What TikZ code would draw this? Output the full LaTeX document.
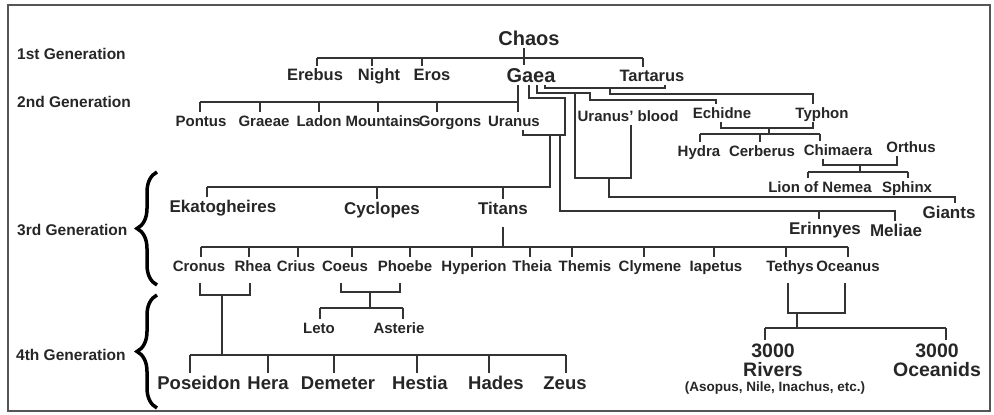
\documentclass[tikz,border=0pt]{standalone}
\usepackage{fontspec}
\setmainfont{Liberation Sans}
\usetikzlibrary{decorations.pathreplacing}
\definecolor{lnk}{HTML}{333333}
\definecolor{txt}{HTML}{262626}
\definecolor{frm}{HTML}{555555}

\begin{document}
\begin{tikzpicture}[x=1pt, y=-1pt,
    every node/.style={inner sep=3pt, text depth=0pt, text=txt},
    note/.style={font=\bfseries\fontsize{13.5}{16}\selectfont, text height=9.7pt},
    godS/.style={font=\bfseries\fontsize{15}{18}\selectfont, text height=10.8pt},
    genlabel/.style={anchor=west, font=\bfseries\fontsize{15.5}{18}\selectfont, text height=11.1pt},
    godM/.style={font=\bfseries\fontsize{16.5}{20}\selectfont, text height=11.8pt},
    godL/.style={font=\bfseries\fontsize{17}{20}\selectfont, text height=12.2pt},
    godXL/.style={font=\bfseries\fontsize{18.5}{22}\selectfont, text height=13.2pt},
    godXXL/.style={font=\bfseries\fontsize{19.5}{23}\selectfont, text height=14pt},
    godH/.style={font=\bfseries\fontsize{20}{24}\selectfont, text height=14.3pt},
    link/.style={draw=lnk, line width=1.8pt},
    brc/.style={decorate, decoration={brace, amplitude=20pt}, line width=3.5pt, draw=black}]
  \useasboundingbox (0,0) rectangle (994,415);
  \draw[frm, line width=1.8pt] (8,5) rectangle (990,411);

  % generation labels and braces
  \node[genlabel] (gen1) at (14,54) {1st Generation};
  \node[genlabel] (gen2) at (14,102) {2nd Generation};
  \node[genlabel] (gen3) at (14,230) {3rd Generation};
  \node[genlabel] (gen4) at (13,355) {4th Generation};
  \draw[brc] (157,285) -- (157,172);
  \draw[brc] (157,408) -- (157,295);

  % 1st generation
  \node[godH] (chaos) at (529,38) {Chaos};
  \node[godM] (erebus) at (315,75) {Erebus};
  \node[godM] (night) at (379,75) {Night};
  \node[godM] (eros) at (432,75) {Eros};
  \node[godH] (gaea) at (531,75) {Gaea};
  \node[godM] (tartarus) at (652,76) {Tartarus};

  % 2nd generation
  \node[godS] (pontus) at (201,121) {Pontus};
  \node[godS] (graeae) at (264,121) {Graeae};
  \node[godS] (ladon) at (319,121) {Ladon};
  \node[godS] (mountains) at (383,121) {Mountains};
  \node[godS] (gorgons) at (450,121) {Gorgons};
  \node[godS] (uranus) at (514,121) {Uranus};
  \node[godS] (blood) at (628,116) {Uranus' blood};
  \node[godS] (echidne) at (722,113) {Echidne};
  \node[godS] (typhon) at (822,113) {Typhon};
  \node[godS] (hydra) at (699,151) {Hydra};
  \node[godS] (cerberus) at (762,151) {Cerberus};
  \node[godS] (chimaera) at (838,150) {Chimaera};
  \node[godS] (orthus) at (911,147) {Orthus};
  \node[godS] (lion) at (820,187) {Lion of Nemea};
  \node[godS] (sphinx) at (907,187) {Sphinx};
  \node[godL] (giants) at (949,212) {Giants};

  % 3rd generation
  \node[godL] (ekato) at (223,206) {Ekatogheires};
  \node[godL] (cyclopes) at (382,208) {Cyclopes};
  \node[godL] (titans) at (503,208) {Titans};
  \node[godL] (erinnyes) at (825,228) {Erinnyes};
  \node[godL] (meliae) at (896,230) {Meliae};
  \node[godS] (cronus) at (199,266) {Cronus};
  \node[godS] (rhea) at (253,266) {Rhea};
  \node[godS] (crius) at (296,266) {Crius};
  \node[godS] (coeus) at (345,266) {Coeus};
  \node[godS] (phoebe) at (405,266) {Phoebe};
  \node[godS] (hyperion) at (474,266) {Hyperion};
  \node[godS] (theia) at (532,266) {Theia};
  \node[godS] (themis) at (585,266) {Themis};
  \node[godS] (clymene) at (650,266) {Clymene};
  \node[godS] (iapetus) at (716,266) {Iapetus};
  \node[godS] (tethys) at (790,266) {Tethys};
  \node[godS] (oceanus) at (848,266) {Oceanus};

  % 4th generation
  \node[godS] (leto) at (319,328) {Leto};
  \node[godS] (asterie) at (399,328) {Asterie};
  \node[godXL] (poseidon) at (199,383) {Poseidon};
  \node[godXL] (hera) at (268,383) {Hera};
  \node[godXL] (demeter) at (338,383) {Demeter};
  \node[godXL] (hestia) at (420,383) {Hestia};
  \node[godXL] (hades) at (496,383) {Hades};
  \node[godXL] (zeus) at (565,383) {Zeus};
  \node[godXXL] (rivnum) at (773,350) {3000};
  \node[godXXL] (rivers) at (773,369) {Rivers};
  \node[note] (rivnote) at (775,387) {(Asopus, Nile, Inachus, etc.)};
  \node[godXXL] (ocnum) at (937,350) {3000};
  \node[godXXL] (oceanids) at (937,369) {Oceanids};

  % children of Chaos
  \coordinate (b1) at (0,58);
  \draw[link] ([xshift=2pt]erebus.north |- b1) -- ([xshift=-9pt]tartarus.north |- b1);
  \foreach \n/\s in {erebus/2, night/-7, eros/-10, tartarus/-9}
    \draw[link] ([xshift=\s pt]\n.north |- b1) -- ([xshift=\s pt]\n.north);
  \draw[link] ([xshift=-5pt]chaos.south) -- ([xshift=-7pt]gaea.north);

  % children of Gaea
  \coordinate (b2) at (0,102);
  \draw[link] ([xshift=-1pt]pontus.north |- b2) -- ([xshift=4pt]uranus.north |- b2);
  \foreach \n/\s in {pontus/-1, graeae/-4, ladon/0, mountains/-5, gorgons/-13}
    \draw[link] ([xshift=\s pt]\n.north |- b2) -- ([xshift=\s pt]\n.north);
  \draw[link] ([xshift=-13pt]gaea.south) -- ([xshift=4pt]uranus.north);

  % Gaea and Uranus
  \coordinate (gu1) at (565,98);
  \coordinate (gu2) at (565,135);
  \draw[link] ([xshift=-2pt]gaea.south) |- (gu1) -- (gu2) -| ([xshift=9pt]uranus.south);
  \coordinate (tj) at (550,135);
  \coordinate (b3) at (0,187);
  \draw[link] (tj) |- ([xshift=-16pt]ekato.north |- b3);
  \foreach \n/\s in {ekato/-16, cyclopes/-5, titans/0}
    \draw[link] ([xshift=\s pt]\n.north |- b3) -- ([xshift=\s pt]\n.north);
  \coordinate (ej) at (560,135);
  \coordinate (b5) at (0,211);
  \draw[link] (ej) |- ([xshift=-1pt]meliae.north |- b5) -- ([xshift=-1pt]meliae.north);
  \draw[link] ([xshift=-6pt]erinnyes.north |- b5) -- ([xshift=-6pt]erinnyes.north);

  % Gaea and Uranus' blood
  \coordinate (ub1) at (575,93);
  \coordinate (ub2) at (575,178);
  \draw[link] ([xshift=6pt]gaea.south) |- (ub1) -- (ub2) -| ([xshift=3pt]blood.south);
  \coordinate (gj) at (609,178);
  \coordinate (b6) at (0,197);
  \draw[link] (gj) |- ([xshift=6pt]giants.north |- b6) -- ([xshift=6pt]giants.north);

  % Echidne
  \coordinate (ec1) at (590,93);
  \coordinate (b7) at (0,100);
  \draw[link] (ub1) -- (ec1) |- ([xshift=-6pt]echidne.north |- b7) -- ([xshift=-6pt]echidne.north);

  % Gaea and Tartarus
  \coordinate (b8) at (0,88);
  \draw[link] ([xshift=14pt]gaea.south) |- ([xshift=13pt]tartarus.south |- b8) -- ([xshift=13pt]tartarus.south);
  \coordinate (ty) at (610,88);
  \coordinate (b9) at (0,94);
  \draw[link] (ty) |- ([xshift=-9pt]typhon.north |- b9) -- ([xshift=-9pt]typhon.north);

  % Echidne and Typhon
  \coordinate (b10) at (0,128);
  \draw[link] ([xshift=-1pt]echidne.south) |- ([xshift=-9pt]typhon.south |- b10) -- ([xshift=-9pt]typhon.south);
  \coordinate (et) at (769,128);
  \coordinate (b11) at (0,134);
  \draw[link] (et) -- (et |- b11);
  \draw[link] ([xshift=1pt]hydra.north |- b11) -- ([xshift=-18pt]chimaera.north |- b11);
  \foreach \n/\s in {hydra/1, cerberus/-2, chimaera/-18}
    \draw[link] ([xshift=\s pt]\n.north |- b11) -- ([xshift=\s pt]\n.north);

  % Chimaera and Orthus
  \coordinate (b12) at (0,165);
  \draw[link] ([xshift=-15pt]chimaera.south) |- ([xshift=-14pt]orthus.south |- b12) -- ([xshift=-14pt]orthus.south);
  \coordinate (co) at (860,165);
  \coordinate (b13) at (0,172);
  \draw[link] (co) -- (co |- b13);
  \draw[link] ([xshift=-12pt]lion.north |- b13) -- ([xshift=1pt]sphinx.north |- b13);
  \foreach \n/\s in {lion/-12, sphinx/1}
    \draw[link] ([xshift=\s pt]\n.north |- b13) -- ([xshift=\s pt]\n.north);

  % children of the Titans
  \coordinate (b14) at (0,247);
  \draw[link] ([yshift=-10pt]titans.south) -- (titans.south |- b14);
  \draw[link] ([xshift=2pt]cronus.north |- b14) -- (oceanus.north |- b14);
  \foreach \n/\s in {cronus/2, rhea/-4, crius/2, coeus/7, phoebe/5, hyperion/-2,
      theia/-2, themis/-13, clymene/-6, iapetus/-2, tethys/-4, oceanus/0}
    \draw[link] ([xshift=\s pt]\n.north |- b14) -- ([xshift=\s pt]\n.north);

  % Cronus and Rhea
  \coordinate (b15) at (0,295);
  \draw[link] ([xshift=1pt,yshift=-8pt]cronus.south) |- ([xshift=-3pt]rhea.south |- b15) -- ([xshift=-3pt,yshift=-8pt]rhea.south);
  \coordinate (cr) at (222,295);
  \coordinate (b16) at (0,355);
  \draw[link] (cr) -- (cr |- b16);
  \draw[link] ([xshift=-9pt]poseidon.north |- b16) -- ([xshift=1pt]zeus.north |- b16);
  \foreach \n/\s in {poseidon/-9, hera/0, demeter/-4, hestia/-3, hades/-7, zeus/1}
    \draw[link] ([xshift=\s pt]\n.north |- b16) -- ([xshift=\s pt]\n.north);

  % Coeus and Phoebe
  \coordinate (b17) at (0,292);
  \draw[link] ([xshift=-4pt,yshift=-8pt]coeus.south) |- ([xshift=-5pt]phoebe.south |- b17) -- ([xshift=-5pt,yshift=-8pt]phoebe.south);
  \coordinate (cp) at (370,292);
  \coordinate (b18) at (0,308);
  \draw[link] (cp) -- (cp |- b18);
  \draw[link] ([xshift=1pt]leto.north |- b18) -- ([xshift=4pt]asterie.north |- b18);
  \foreach \n/\s in {leto/1, asterie/4}
    \draw[link] ([xshift=\s pt]\n.north |- b18) -- ([xshift=\s pt]\n.north);

  % Tethys and Oceanus
  \coordinate (b19) at (0,313);
  \draw[link] ([xshift=-2pt,yshift=-8pt]tethys.south) |- ([xshift=-3pt]oceanus.south |- b19) -- ([xshift=-3pt,yshift=-8pt]oceanus.south);
  \coordinate (to) at (797,313);
  \coordinate (b20) at (0,328);
  \draw[link] (to) -- (to |- b20);
  \draw[link] ([xshift=-8pt]rivnum.north |- b20) -- ([xshift=9pt]ocnum.north |- b20);
  \foreach \n/\s in {rivnum/-8, ocnum/9}
    \draw[link] ([xshift=\s pt]\n.north |- b20) -- ([xshift=\s pt]\n.north);
\end{tikzpicture}
\end{document}
